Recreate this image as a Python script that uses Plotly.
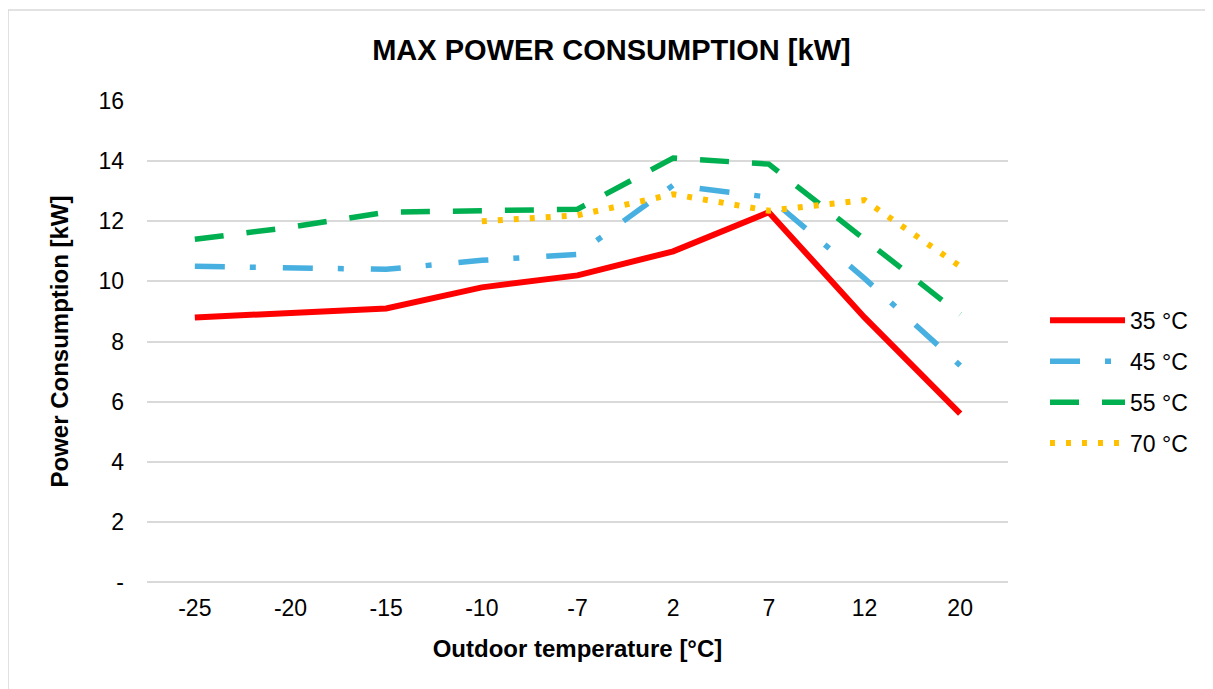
import plotly.graph_objects as go

categories = ["-25", "-20", "-15", "-10", "-7", "2", "7", "12", "20"]
s35 = [8.8, 8.95, 9.1, 9.8, 10.2, 11.0, 12.3, 8.8, 5.6]
s45 = [10.5, 10.45, 10.4, 10.7, 10.9, 13.2, 12.8, 10.1, 7.2]
s55 = [11.4, 11.8, 12.3, 12.35, 12.4, 14.1, 13.9, 11.4, 8.9]
s70 = [None, None, None, 12.0, 12.2, 12.9, 12.35, 12.7, 10.5]
y_ticks = [0, 2, 4, 6, 8, 10, 12, 14, 16]
y_tick_text = ["-", "2", "4", "6", "8", "10", "12", "14", "16"]

FONT = "Liberation Sans, Arial, sans-serif"

fig = go.Figure()
fig.add_trace(go.Scatter(x=categories, y=s35, name="35 °C", mode="lines", legendgroup="a",
                         line=dict(color="#FF0000", width=6)))
fig.add_trace(go.Scatter(x=categories, y=s45, name="45 °C", mode="lines", legendgroup="b",
                         line=dict(color="#47B0E0", width=5.5, dash="30px,25px,6px,27px")))
fig.add_trace(go.Scatter(x=categories, y=s55, name="55 °C", mode="lines", legendgroup="c",
                         line=dict(color="#00B050", width=5.5, dash="29px,23px")))
fig.add_trace(go.Scatter(x=categories, y=s70, name="70 °C", mode="lines", legendgroup="d",
                         line=dict(color="#FFC000", width=6, dash="5px,11px")))

fig.update_layout(
    width=1205, height=681,
    margin=dict(l=139, r=205, t=93, b=107),
    paper_bgcolor="white", plot_bgcolor="white",
    font=dict(family=FONT, size=23, color="#000000"),
    title=dict(text="<b>MAX POWER CONSUMPTION [kW]</b>", x=0.5008, xanchor="center",
               y=0.938, yanchor="middle", font=dict(size=29, family=FONT)),
    legend=dict(x=1.043, y=0.416, xanchor="left", yanchor="middle",
                font=dict(size=23), itemwidth=75, tracegroupgap=8,
                bgcolor="rgba(0,0,0,0)"),
    showlegend=True,
)
fig.update_xaxes(type="category", range=[-0.5, 8.5], showgrid=False, showline=False,
                 zeroline=False, ticks="", ticklabelstandoff=10, tickfont=dict(size=23),
                 title=dict(text="<b>Outdoor temperature [°C]</b>", font=dict(size=24), standoff=20))
fig.update_yaxes(range=[0, 16], tickvals=y_ticks, ticktext=y_tick_text,
                 showgrid=True, gridcolor="#D9D9D9", gridwidth=1.5,
                 zeroline=True, zerolinecolor="#D9D9D9", zerolinewidth=1.5,
                 showline=False, ticks="", ticklabelstandoff=22, tickfont=dict(size=23),
                 title=dict(text="<b>Power Consumption [kW]</b>", font=dict(size=24), standoff=23))

# outer chart border (left & top visible)
fig.add_shape(type="line", xref="paper", yref="paper", x0=-0.1614, x1=-0.1614, y0=-0.23, y1=1.189,
              line=dict(color="#D9D9D9", width=1.5))
fig.add_shape(type="line", xref="paper", yref="paper", x0=-0.1614, x1=1.40, y0=1.189, y1=1.189,
              line=dict(color="#D9D9D9", width=1.5))

fig.write_html("out.html")
